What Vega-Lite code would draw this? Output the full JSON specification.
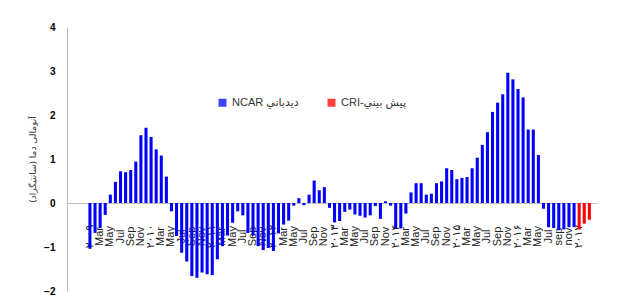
{
  "$schema": "https://vega.github.io/schema/vega-lite/v6.json",
  "autosize": {"type": "none"},
  "width": 530,
  "height": 264,
  "padding": {"left": 67, "top": 27, "right": 22, "bottom": 13},
  "background": "white",
  "config": {"view": {"stroke": null}, "font": "Liberation Sans"},
  "data": {"values": [
    {"month": "2009-01", "value": -1.04, "series": "NCAR ديدباني"},
    {"month": "2009-02", "value": -0.68, "series": "NCAR ديدباني"},
    {"month": "2009-03", "value": -0.57, "series": "NCAR ديدباني"},
    {"month": "2009-04", "value": -0.27, "series": "NCAR ديدباني"},
    {"month": "2009-05", "value": 0.19, "series": "NCAR ديدباني"},
    {"month": "2009-06", "value": 0.48, "series": "NCAR ديدباني"},
    {"month": "2009-07", "value": 0.72, "series": "NCAR ديدباني"},
    {"month": "2009-08", "value": 0.70, "series": "NCAR ديدباني"},
    {"month": "2009-09", "value": 0.75, "series": "NCAR ديدباني"},
    {"month": "2009-10", "value": 0.94, "series": "NCAR ديدباني"},
    {"month": "2009-11", "value": 1.54, "series": "NCAR ديدباني"},
    {"month": "2009-12", "value": 1.71, "series": "NCAR ديدباني"},
    {"month": "2010-01", "value": 1.50, "series": "NCAR ديدباني"},
    {"month": "2010-02", "value": 1.22, "series": "NCAR ديدباني"},
    {"month": "2010-03", "value": 1.08, "series": "NCAR ديدباني"},
    {"month": "2010-04", "value": 0.60, "series": "NCAR ديدباني"},
    {"month": "2010-05", "value": -0.19, "series": "NCAR ديدباني"},
    {"month": "2010-06", "value": -0.75, "series": "NCAR ديدباني"},
    {"month": "2010-07", "value": -1.13, "series": "NCAR ديدباني"},
    {"month": "2010-08", "value": -1.33, "series": "NCAR ديدباني"},
    {"month": "2010-09", "value": -1.66, "series": "NCAR ديدباني"},
    {"month": "2010-10", "value": -1.70, "series": "NCAR ديدباني"},
    {"month": "2010-11", "value": -1.58, "series": "NCAR ديدباني"},
    {"month": "2010-12", "value": -1.62, "series": "NCAR ديدباني"},
    {"month": "2011-01", "value": -1.64, "series": "NCAR ديدباني"},
    {"month": "2011-02", "value": -1.28, "series": "NCAR ديدباني"},
    {"month": "2011-03", "value": -0.98, "series": "NCAR ديدباني"},
    {"month": "2011-04", "value": -0.74, "series": "NCAR ديدباني"},
    {"month": "2011-05", "value": -0.45, "series": "NCAR ديدباني"},
    {"month": "2011-06", "value": -0.19, "series": "NCAR ديدباني"},
    {"month": "2011-07", "value": -0.28, "series": "NCAR ديدباني"},
    {"month": "2011-08", "value": -0.68, "series": "NCAR ديدباني"},
    {"month": "2011-09", "value": -0.74, "series": "NCAR ديدباني"},
    {"month": "2011-10", "value": -0.98, "series": "NCAR ديدباني"},
    {"month": "2011-11", "value": -1.07, "series": "NCAR ديدباني"},
    {"month": "2011-12", "value": -1.02, "series": "NCAR ديدباني"},
    {"month": "2012-01", "value": -1.09, "series": "NCAR ديدباني"},
    {"month": "2012-02", "value": -0.69, "series": "NCAR ديدباني"},
    {"month": "2012-03", "value": -0.49, "series": "NCAR ديدباني"},
    {"month": "2012-04", "value": -0.40, "series": "NCAR ديدباني"},
    {"month": "2012-05", "value": -0.06, "series": "NCAR ديدباني"},
    {"month": "2012-06", "value": 0.11, "series": "NCAR ديدباني"},
    {"month": "2012-07", "value": -0.05, "series": "NCAR ديدباني"},
    {"month": "2012-08", "value": 0.19, "series": "NCAR ديدباني"},
    {"month": "2012-09", "value": 0.51, "series": "NCAR ديدباني"},
    {"month": "2012-10", "value": 0.29, "series": "NCAR ديدباني"},
    {"month": "2012-11", "value": 0.36, "series": "NCAR ديدباني"},
    {"month": "2012-12", "value": -0.11, "series": "NCAR ديدباني"},
    {"month": "2013-01", "value": -0.44, "series": "NCAR ديدباني"},
    {"month": "2013-02", "value": -0.41, "series": "NCAR ديدباني"},
    {"month": "2013-03", "value": -0.20, "series": "NCAR ديدباني"},
    {"month": "2013-04", "value": -0.15, "series": "NCAR ديدباني"},
    {"month": "2013-05", "value": -0.26, "series": "NCAR ديدباني"},
    {"month": "2013-06", "value": -0.29, "series": "NCAR ديدباني"},
    {"month": "2013-07", "value": -0.33, "series": "NCAR ديدباني"},
    {"month": "2013-08", "value": -0.28, "series": "NCAR ديدباني"},
    {"month": "2013-09", "value": -0.07, "series": "NCAR ديدباني"},
    {"month": "2013-10", "value": -0.36, "series": "NCAR ديدباني"},
    {"month": "2013-11", "value": 0.04, "series": "NCAR ديدباني"},
    {"month": "2013-12", "value": -0.06, "series": "NCAR ديدباني"},
    {"month": "2014-01", "value": -0.57, "series": "NCAR ديدباني"},
    {"month": "2014-02", "value": -0.58, "series": "NCAR ديدباني"},
    {"month": "2014-03", "value": -0.24, "series": "NCAR ديدباني"},
    {"month": "2014-04", "value": 0.24, "series": "NCAR ديدباني"},
    {"month": "2014-05", "value": 0.45, "series": "NCAR ديدباني"},
    {"month": "2014-06", "value": 0.45, "series": "NCAR ديدباني"},
    {"month": "2014-07", "value": 0.19, "series": "NCAR ديدباني"},
    {"month": "2014-08", "value": 0.21, "series": "NCAR ديدباني"},
    {"month": "2014-09", "value": 0.45, "series": "NCAR ديدباني"},
    {"month": "2014-10", "value": 0.49, "series": "NCAR ديدباني"},
    {"month": "2014-11", "value": 0.79, "series": "NCAR ديدباني"},
    {"month": "2014-12", "value": 0.75, "series": "NCAR ديدباني"},
    {"month": "2015-01", "value": 0.54, "series": "NCAR ديدباني"},
    {"month": "2015-02", "value": 0.57, "series": "NCAR ديدباني"},
    {"month": "2015-03", "value": 0.59, "series": "NCAR ديدباني"},
    {"month": "2015-04", "value": 0.79, "series": "NCAR ديدباني"},
    {"month": "2015-05", "value": 1.03, "series": "NCAR ديدباني"},
    {"month": "2015-06", "value": 1.32, "series": "NCAR ديدباني"},
    {"month": "2015-07", "value": 1.61, "series": "NCAR ديدباني"},
    {"month": "2015-08", "value": 2.07, "series": "NCAR ديدباني"},
    {"month": "2015-09", "value": 2.28, "series": "NCAR ديدباني"},
    {"month": "2015-10", "value": 2.47, "series": "NCAR ديدباني"},
    {"month": "2015-11", "value": 2.96, "series": "NCAR ديدباني"},
    {"month": "2015-12", "value": 2.81, "series": "NCAR ديدباني"},
    {"month": "2016-01", "value": 2.59, "series": "NCAR ديدباني"},
    {"month": "2016-02", "value": 2.40, "series": "NCAR ديدباني"},
    {"month": "2016-03", "value": 1.67, "series": "NCAR ديدباني"},
    {"month": "2016-04", "value": 1.67, "series": "NCAR ديدباني"},
    {"month": "2016-05", "value": 1.09, "series": "NCAR ديدباني"},
    {"month": "2016-06", "value": -0.13, "series": "NCAR ديدباني"},
    {"month": "2016-07", "value": -0.55, "series": "NCAR ديدباني"},
    {"month": "2016-08", "value": -0.57, "series": "NCAR ديدباني"},
    {"month": "2016-09", "value": -0.62, "series": "NCAR ديدباني"},
    {"month": "2016-10", "value": -0.60, "series": "NCAR ديدباني"},
    {"month": "2016-11", "value": -0.55, "series": "NCAR ديدباني"},
    {"month": "2016-12", "value": -0.55, "series": "NCAR ديدباني"},
    {"month": "2017-01", "value": -0.60, "series": "CRI-پيش بيني"},
    {"month": "2017-02", "value": -0.47, "series": "CRI-پيش بيني"},
    {"month": "2017-03", "value": -0.38, "series": "CRI-پيش بيني"}
  ]},
  "mark": {"type": "bar"},
  "encoding": {
    "x": {
      "field": "month",
      "type": "ordinal",
      "sort": null,
      "scale": {
        "domain": ["2008-09","2008-10","2008-11","2008-12",
          "2009-01","2009-02","2009-03","2009-04","2009-05","2009-06","2009-07","2009-08","2009-09","2009-10","2009-11","2009-12",
          "2010-01","2010-02","2010-03","2010-04","2010-05","2010-06","2010-07","2010-08","2010-09","2010-10","2010-11","2010-12",
          "2011-01","2011-02","2011-03","2011-04","2011-05","2011-06","2011-07","2011-08","2011-09","2011-10","2011-11","2011-12",
          "2012-01","2012-02","2012-03","2012-04","2012-05","2012-06","2012-07","2012-08","2012-09","2012-10","2012-11","2012-12",
          "2013-01","2013-02","2013-03","2013-04","2013-05","2013-06","2013-07","2013-08","2013-09","2013-10","2013-11","2013-12",
          "2014-01","2014-02","2014-03","2014-04","2014-05","2014-06","2014-07","2014-08","2014-09","2014-10","2014-11","2014-12",
          "2015-01","2015-02","2015-03","2015-04","2015-05","2015-06","2015-07","2015-08","2015-09","2015-10","2015-11","2015-12",
          "2016-01","2016-02","2016-03","2016-04","2016-05","2016-06","2016-07","2016-08","2016-09","2016-10","2016-11","2016-12",
          "2017-01","2017-02","2017-03","2017-04"],
        "paddingInner": 0.4,
        "paddingOuter": 0.2
      },
      "axis": {
        "title": null,
        "orient": "bottom",
        "offset": -88,
        "ticks": false,
        "domainColor": "#bfbfbf",
        "domainWidth": 1,
        "labelAngle": 270,
        "labelAlign": "center",
        "labelBaseline": "middle",
        "labelPadding": 33,
        "labelFont": "Liberation Sans, DejaVu Sans",
        "labelFontSize": 11,
        "labelColor": "#222222",
        "labelOverlap": false,
        "labelBound": false,
        "labelFlush": false,
        "labelExpr": "datum.value == '2009-01' ? '۲۰۰۹' : datum.value == '2010-01' ? '۲۰۱۰' : datum.value == '2011-01' ? '۲۰۱۱' : datum.value == '2012-01' ? '۲۰۱۲' : datum.value == '2013-01' ? '۲۰۱۳' : datum.value == '2014-01' ? '۲۰۱۴' : datum.value == '2015-01' ? '۲۰۱۵' : datum.value == '2016-01' ? '۲۰۱۶' : datum.value == '2017-01' ? '۲۰۱۷' : (datum.value < '2009' || datum.value >= '2017') ? '' : datum.value == '2016-09' ? 'sep' : datum.value == '2016-11' ? 'nov' : ['','','Mar','','May','','Jul','','Sep','','Nov',''][toNumber(substring(datum.value,5,7)) - 1]"
      }
    },
    "y": {
      "field": "value",
      "type": "quantitative",
      "scale": {"domain": [-2, 4], "nice": false, "zero": false},
      "axis": {
        "title": "آنومالی دما (سانتیگراد)",
        "titleFont": "DejaVu Sans",
        "titleFontSize": 9,
        "titleFontWeight": "normal",
        "titleColor": "#404040",
        "titleAngle": 270,
        "titleAlign": "center",
        "titleBaseline": "middle",
        "titleX": -35,
        "titleY": 132,
        "values": [-2, -1, 0, 1, 2, 3, 4],
        "grid": false,
        "ticks": false,
        "domainColor": "#bfbfbf",
        "labelFont": "Liberation Sans",
        "labelFontWeight": "bold",
        "labelFontSize": 10,
        "labelColor": "#000000",
        "labelPadding": 12
      }
    },
    "color": {
      "field": "series",
      "type": "nominal",
      "scale": {"domain": ["NCAR ديدباني", "CRI-پيش بيني"], "range": ["#0000ff", "#ff0000"]},
      "legend": {
        "title": null,
        "orient": "none",
        "legendX": 150,
        "legendY": 70,
        "direction": "horizontal",
        "symbolType": "square",
        "symbolSize": 64,
        "symbolOpacity": 0.75,
        "symbolStrokeWidth": 1,
        "labelFont": "Liberation Sans, DejaVu Sans",
        "labelFontSize": 11,
        "labelColor": "#333333",
        "columnPadding": 27,
        "labelOffset": 4
      }
    }
  }
}
